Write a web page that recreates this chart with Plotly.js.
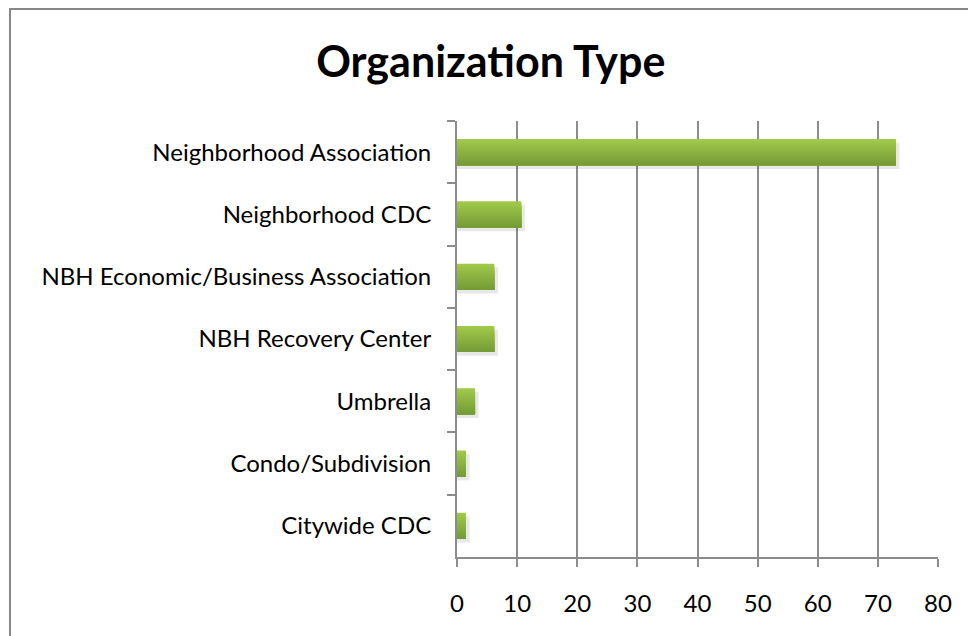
<!DOCTYPE html>
<html>
<head>
<meta charset="utf-8">
<script src="https://cdn.plot.ly/plotly-3.0.1.min.js"></script>
<style>
  html, body { margin:0; padding:0; overflow:hidden; background:#fff; }
  #frame { position:absolute; left:9px; top:8px; width:1100px; height:800px; border-left:2px solid #878787; border-top:2px solid #878787; pointer-events:none; z-index:2; }
  #chart { position:absolute; left:0; top:0; width:968px; height:636px; }
</style>
</head>
<body>
<div id="chart"></div>
<div id="frame"></div>
<script>
const categories = [
  "Neighborhood Association",
  "Neighborhood CDC",
  "NBH Economic/Business Association",
  "NBH Recovery Center",
  "Umbrella",
  "Condo/Subdivision",
  "Citywide CDC"
];
const values = [73, 10.7, 6.2, 6.2, 3, 1.5, 1.5];
const xTicks = [0, 10, 20, 30, 40, 50, 60, 70, 80];

// gradient simulation: overlaid bars, each band covering from its start to the bar bottom
const barWidth = 0.42;
const bands = 14;
const topColor = [160, 201, 74];
const botColor = [117, 156, 55];
const traces = [];
// soft shadow
traces.push({
  type: 'bar', orientation: 'h', y: categories, x: values.map(v => v + 0.6),
  width: barWidth, offset: -barWidth/2 + 0.06,
  marker: { color: 'rgba(0,0,0,0.09)', line: { width: 0 } },
  hoverinfo: 'skip', showlegend: false
});
for (let i = 0; i < bands; i++) {
  const t = i / (bands - 1);
  const c = topColor.map((a, k) => Math.round(a + (botColor[k] - a) * t));
  traces.push({
    type: 'bar', orientation: 'h', y: categories, x: values,
    width: barWidth - i * barWidth / bands,
    offset: -barWidth/2 + i * barWidth / bands,
    marker: { color: `rgb(${c[0]},${c[1]},${c[2]})`, line: { width: 0 } },
    showlegend: false
  });
}

const layout = {
  width: 968, height: 636,
  margin: { l: 457, r: 30, t: 121, b: 79 },
  paper_bgcolor: '#ffffff', plot_bgcolor: '#ffffff',
  barmode: 'overlay',
  font: { family: 'Lato, "Open Sans", sans-serif', color: '#000' },
  title: {
    text: '<b>Organization Type</b>',
    font: { family: 'Lato, "Open Sans", sans-serif', size: 43, color: '#000' },
    x: 0.507, xanchor: 'center', xref: 'container',
    y: 1 - 62/636, yanchor: 'middle', yref: 'container'
  },
  xaxis: {
    range: [0, 80], tickvals: xTicks, ticktext: xTicks.map(String),
    showgrid: true, gridcolor: '#8c8c8c', gridwidth: 2,
    zeroline: false, showline: true, linecolor: '#8c8c8c', linewidth: 2,
    ticks: 'outside', ticklen: 8, tickcolor: '#8c8c8c', tickwidth: 2,
    tickfont: { size: 24, color: '#000' }, ticklabelstandoff: 16, fixedrange: true
  },
  yaxis: {
    type: 'category', autorange: 'reversed',
    showgrid: false, zeroline: false,
    showline: true, linecolor: '#8c8c8c', linewidth: 2,
    ticks: 'outside', tickson: 'boundaries', ticklen: 8, tickcolor: '#8c8c8c', tickwidth: 2,
    tickfont: { size: 24, color: '#000' }, ticklabelstandoff: 19, fixedrange: true
  }
};

Plotly.newPlot('chart', traces, layout, { displayModeBar: false, staticPlot: true });
</script>
</body>
</html>
